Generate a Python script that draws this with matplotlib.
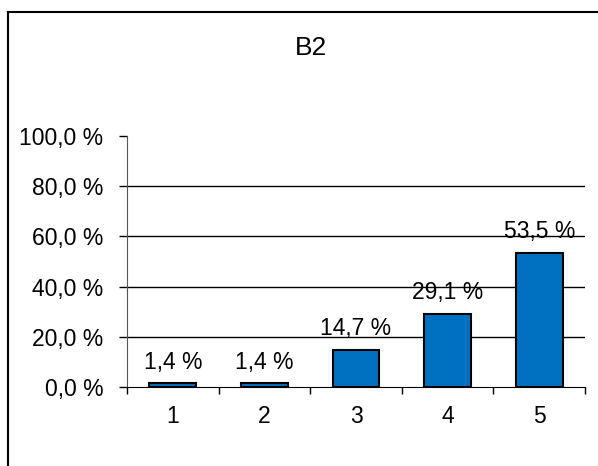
import matplotlib
matplotlib.use("Agg")
import matplotlib.pyplot as plt
from matplotlib.lines import Line2D
from matplotlib.ticker import FixedLocator

plt.rcParams['font.family'] = ['Liberation Sans', 'DejaVu Sans']

# data
categories = ["1", "2", "3", "4", "5"]
values = [1.4, 1.4, 14.7, 29.1, 53.5]
y_ticks = [0, 20, 40, 60, 80, 100]
title = "B2"

BAR_COLOR = "#0070C0"
FS = 16.5


def pct(v):
    return ("%.1f %%" % v).replace(".", ",")


fig = plt.figure(figsize=(5.98, 4.66), dpi=100)
ax = fig.add_axes([127 / 598, 1 - 387 / 466, (585 - 127) / 598, (387 - 136) / 466])

x = list(range(len(categories)))
ax.bar(x, values, width=0.51, color=BAR_COLOR, edgecolor="black", linewidth=1.5, zorder=3)

for xi, v in zip(x, values):
    ax.annotate(pct(v), (xi, v), xytext=(0, 7), textcoords="offset points",
                ha="center", va="bottom", fontsize=FS)

ax.set_xlim(-0.5, len(categories) - 0.5)
ax.set_ylim(0, 100)

# gridlines only inside the plot, not at 0 or 100
for g in y_ticks[1:-1]:
    ax.axhline(g, color="black", linewidth=1, zorder=1)

ax.set_yticks(y_ticks)
ax.set_yticklabels([pct(t) for t in y_ticks])
ax.tick_params(axis="y", direction="out", length=6, width=1, pad=11, labelsize=FS)

ax.set_xticks(x)
ax.set_xticklabels(categories)
ax.tick_params(axis="x", which="major", length=0, pad=13, labelsize=FS)
ax.xaxis.set_minor_locator(FixedLocator([i - 0.5 for i in range(len(categories) + 1)]))
ax.tick_params(axis="x", which="minor", direction="out", length=5, width=1)

for side in ["top", "right"]:
    ax.spines[side].set_visible(False)
ax.spines["left"].set_color("#555555")
ax.spines["bottom"].set_color("black")

fig.text(311 / 598, 1 - 48 / 466, title, ha="center", va="center", fontsize=19)

# outer chart frame (top and left edges visible)
fig.add_artist(Line2D([8 / 598, 1], [1 - 12 / 466, 1 - 12 / 466], color="black", linewidth=1.5))
fig.add_artist(Line2D([8 / 598, 8 / 598], [0, 1 - 12 / 466], color="black", linewidth=1.5))

fig.savefig("out.png", dpi=100)
